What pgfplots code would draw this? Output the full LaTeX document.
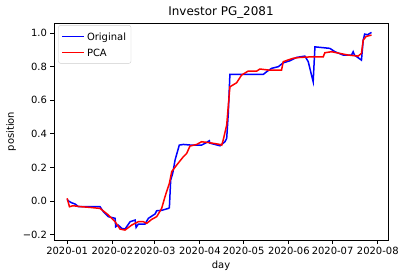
\documentclass[border=0pt]{standalone}
\usepackage{fontspec}
\setmainfont{DejaVu Sans}
\usepackage{pgfplots}
\pgfplotsset{compat=1.18}
\pgfplotsset{mplline/.style={legend image code/.code={\draw[#1, line width=1.5bp] (0bp,0bp) -- (22bp,0bp);}}}
\begin{document}
\begin{tikzpicture}
\begin{axis}[
  scale only axis,
  width=334bp, height=217bp,
  xmin=-9, xmax=220, ymin=-0.232, ymax=1.06,
  xtick={0,31,60,91,121,152,182,213},
  xticklabels={2020-01,2020-02,2020-03,2020-04,2020-05,2020-06,2020-07,2020-08},
  ytick={-0.2,0,0.2,0.4,0.6,0.8,1.0},
  yticklabels={−0.2,0.0,0.2,0.4,0.6,0.8,1.0},
  tick align=outside, tick pos=left,
  major tick length=3.5bp,
  every tick/.style={black, line width=0.8bp},
  axis line style={line width=0.8bp},
  tick label style={font=\fontsize{10}{12}\selectfont},
  xlabel={day}, ylabel={position},
  label style={font=\fontsize{10}{12}\selectfont},
  title={Investor PG\_2081},
  title style={font=\fontsize{12}{14}\selectfont, anchor=base, yshift=1.5bp},
  legend style={at={(0.013,0.99)}, anchor=north west, draw=black!20, rounded corners=2pt, fill=white, font=\fontsize{10}{12}\selectfont, inner sep=3bp},
  legend cell align=left,
]
\addplot[blue, line width=1.5bp, mark=none, mplline] coordinates {
(0,0.01)(1,0.0)(3,-0.01)(5.5,-0.018)(7.8,-0.034)(15,-0.034)(22.6,-0.034)
(24.9,-0.064)(28.3,-0.093)(32.9,-0.103)(33.3,-0.153)(35,-0.143)(37.5,-0.163)
(39.7,-0.167)(43.2,-0.123)(46.6,-0.113)(47.3,-0.157)(48.8,-0.137)(53.4,-0.137)
(55.7,-0.103)(60.3,-0.077)(61.4,-0.058)(65,-0.055)(69.4,-0.044)(70.1,-0.040)
(71,0.125)(72.4,0.165)(74,0.244)(75.6,0.293)(76.9,0.333)(79.7,0.337)(85,0.333)
(92.2,0.333)(94.5,0.343)(97.5,0.359)(97.8,0.345)(104.8,0.329)(108.2,0.353)
(109.4,0.373)(110.5,0.522)(111.6,0.754)(134.5,0.754)(136.8,0.77)(140.2,0.79)
(144.8,0.80)(148.2,0.823)(152.7,0.835)(157.3,0.855)(163,0.863)(165.3,0.83)
(168.7,0.71)(169.9,0.918)(180.1,0.909)(183.6,0.889)(189.3,0.869)(195,0.869)
(196.1,0.889)(197,0.869)(201.8,0.839)(203,0.958)(204,0.994)(206,0.99)(208.7,1.004)
};
\addlegendentry{\rule[-3.5bp]{0pt}{14bp}Original}
\addplot[red, line width=1.5bp, mark=none, mplline] coordinates {
(0,0.016)(1.6,-0.034)(4,-0.028)(10,-0.034)(15.8,-0.038)(22.6,-0.044)(28.3,-0.083)
(32.9,-0.123)(36.3,-0.167)(39.7,-0.173)(44.3,-0.143)(48.8,-0.123)(52.3,-0.123)
(54.6,-0.133)(58,-0.109)(61.4,-0.093)(64.8,-0.044)(67.1,0.026)(70.1,0.105)
(71.7,0.175)(75.1,0.214)(79.7,0.264)(82,0.284)(84.2,0.327)(88.8,0.337)(92.2,0.353)
(97.9,0.347)(104.8,0.337)(106,0.333)(107,0.363)(109.4,0.452)(111.6,0.68)
(116.2,0.704)(119.6,0.75)(124.2,0.774)(130,0.774)(132.2,0.786)(137.9,0.78)
(147,0.78)(148.2,0.83)(155,0.85)(159.6,0.855)(168.7,0.859)(175.6,0.859)
(176.7,0.883)(181.3,0.889)(187,0.879)(192.7,0.869)(199.5,0.863)(201.8,0.879)
(203,0.958)(205,0.98)(208.7,0.988)
};
\addlegendentry{\rule[-3.5bp]{0pt}{14bp}PCA}
\end{axis}
\pgfresetboundingbox
\path ([shift={(-54bp,-38bp)}]current axis.south west) rectangle ([shift={(18bp,23bp)}]current axis.north east);
\end{tikzpicture}
\end{document}
